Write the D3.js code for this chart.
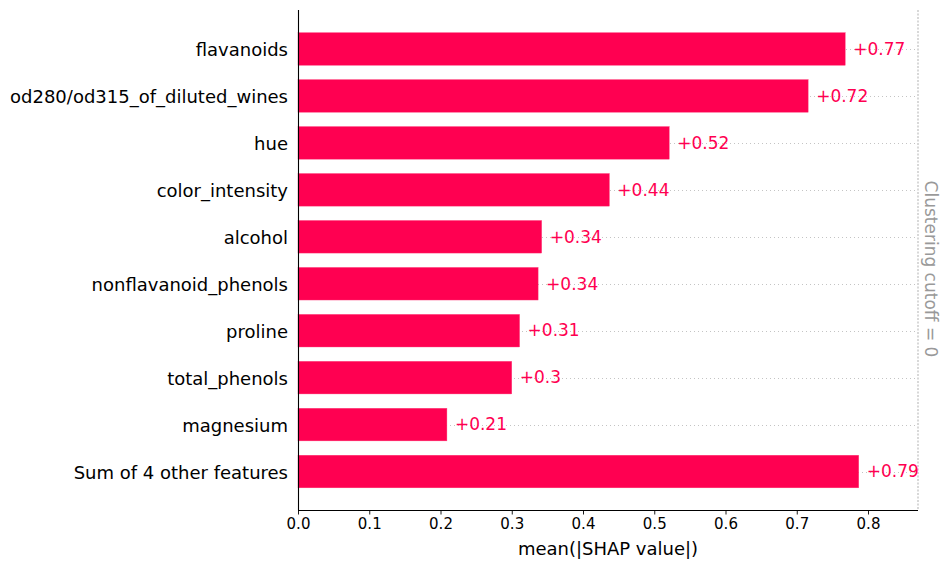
<!DOCTYPE html>
<html>
<head>
<meta charset="utf-8">
<script src="https://cdn.jsdelivr.net/npm/d3@7"></script>
<style>
  body { margin: 0; background: #fff; }
  svg { font-family: "DejaVu Sans", sans-serif; }
</style>
</head>
<body>
<svg id="chart" width="949" height="568"></svg>
<script>
// feature names, top to bottom
const features = [
  "flavanoids",
  "od280/od315_of_diluted_wines",
  "hue",
  "color_intensity",
  "alcohol",
  "nonflavanoid_phenols",
  "proline",
  "total_phenols",
  "magnesium",
  "Sum of 4 other features",
];
// mean(|SHAP value|) per feature
const shapValues = [0.768, 0.716, 0.521, 0.437, 0.342, 0.337, 0.311, 0.300, 0.209, 0.787];
// text shown next to each bar
const valueLabels = ["+0.77", "+0.72", "+0.52", "+0.44", "+0.34", "+0.34", "+0.31", "+0.3", "+0.21", "+0.79"];
const xTicks = [0, 0.1, 0.2, 0.3, 0.4, 0.5, 0.6, 0.7, 0.8];

const red = "#ff0051";
const plotLeft = 298, plotRight = 918, plotTop = 10, plotBottom = 510.5;

const svg = d3.select("#chart");

const x = d3.scaleLinear().domain([0, 0.8]).range([plotLeft, 868]);
const y = d3.scaleLinear()
  .domain([-0.83, features.length - 1 + 0.83])
  .range([plotTop, plotBottom]);
const barH = 32.6;

// dotted row guides
svg.append("g")
  .selectAll("line")
  .data(features)
  .join("line")
  .attr("x1", plotLeft)
  .attr("x2", plotRight)
  .attr("y1", (d, i) => Math.round(y(i)) + 0.5)
  .attr("y2", (d, i) => Math.round(y(i)) + 0.5)
  .attr("stroke", "#c4c4c4")
  .attr("stroke-width", 1)
  .attr("stroke-dasharray", "1,3");

// clustering cutoff line
svg.append("line")
  .attr("x1", plotRight)
  .attr("x2", plotRight)
  .attr("y1", plotTop)
  .attr("y2", plotBottom)
  .attr("stroke", "#d8d8d8")
  .attr("stroke-width", 2)
  .attr("stroke-dasharray", "2,1.5");

// bars
svg.append("g")
  .selectAll("rect")
  .data(shapValues)
  .join("rect")
  .attr("x", x(0))
  .attr("y", (d, i) => y(i) - barH / 2)
  .attr("width", (d) => x(d) - x(0))
  .attr("height", barH)
  .attr("fill", red)
  .attr("stroke", "#ff3d78")
  .attr("stroke-width", 0.4);

// value labels
svg.append("g")
  .selectAll("text")
  .data(shapValues)
  .join("text")
  .attr("x", (d) => x(d) + 8)
  .attr("y", (d, i) => y(i))
  .attr("dy", "0.34em")
  .attr("fill", red)
  .style("font-size", "17px")
  .text((d, i) => valueLabels[i]);

// y labels
svg.append("g")
  .selectAll("text")
  .data(features)
  .join("text")
  .attr("x", plotLeft - 10)
  .attr("y", (d, i) => y(i))
  .attr("dy", "0.39em")
  .attr("text-anchor", "end")
  .attr("fill", "#000")
  .style("font-size", "18px")
  .text((d) => d);

// left spine
svg.append("line")
  .attr("x1", plotLeft + 0.5)
  .attr("x2", plotLeft + 0.5)
  .attr("y1", plotTop)
  .attr("y2", plotBottom)
  .attr("stroke", "#000")
  .attr("stroke-width", 1.1);

// x axis
const xAxis = svg.append("g")
  .attr("transform", `translate(0,${plotBottom})`)
  .call(
    d3.axisBottom(x)
      .tickValues(xTicks)
      .tickFormat(d3.format(".1f"))
      .tickSize(4)
      .tickSizeOuter(0)
      .tickPadding(4),
  );
xAxis.select(".domain").remove();
xAxis.append("line")
  .attr("x1", plotLeft)
  .attr("x2", plotRight)
  .attr("stroke", "#000")
  .attr("stroke-width", 1.1);
xAxis.selectAll(".tick line").attr("stroke", "#000").attr("stroke-width", 0.9);
xAxis.selectAll("text")
  .attr("fill", "#000")
  .style("font-size", "15px")
  .style("font-family", "DejaVu Sans, sans-serif");

svg.append("text")
  .attr("x", (plotLeft + plotRight) / 2)
  .attr("y", 555)
  .attr("text-anchor", "middle")
  .style("font-size", "18px")
  .text("mean(|SHAP value|)");

// cutoff label
svg.append("text")
  .attr("transform", `translate(925,269) rotate(90)`)
  .attr("text-anchor", "middle")
  .attr("fill", "#999")
  .style("font-size", "17px")
  .text("Clustering cutoff = 0");
</script>
</body>
</html>
